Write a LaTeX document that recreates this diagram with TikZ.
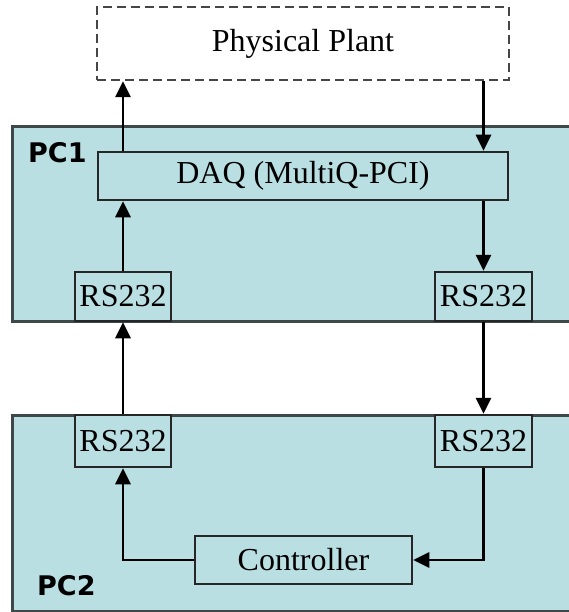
\documentclass[tikz,border=0pt]{standalone}
\usepackage{fontspec}
\setmainfont{Liberation Serif}
\newfontfamily\pclabelfont{DejaVu Sans}
\usetikzlibrary{arrows.meta}
\definecolor{pcfill}{RGB}{185,223,227}
\definecolor{pcedge}{RGB}{62,72,72}
\definecolor{dashgray}{RGB}{70,70,70}
\tikzset{
  pcbox/.style={draw=pcedge, line width=3pt, fill=pcfill, inner sep=0pt},
  blockbox/.style={draw=black!85, line width=2.5pt, fill=pcfill, inner sep=0pt,
    font=\fontsize{32}{38}\selectfont},
  plantbox/.style={draw=dashgray, line width=2.5pt, dash pattern=on 9pt off 5pt,
    fill=white, inner sep=0pt, font=\fontsize{32}{38}\selectfont},
  pclabel/.style={font=\pclabelfont\bfseries\fontsize{27}{32}\selectfont, inner sep=0pt, anchor=base west},
  arr/.style={line width=2.7pt, black, -{Triangle[length=16pt,width=15pt]}},
  conn/.style={line width=2.7pt, black}
}
\begin{document}
\begin{tikzpicture}[x=1pt,y=-1pt]
\useasboundingbox (0,0) rectangle (569,612);
\clip (0,0) rectangle (569,612);
\fill[white] (0,0) rectangle (569,612);
% outer PC boxes
\node[pcbox, minimum width=568pt, minimum height=194pt] (pc1) at (296,224) {};
\node[pcbox, minimum width=568pt, minimum height=196pt] (pc2) at (296,513) {};
\node[pclabel] (pc1lab) at (28,163) {PC1};
\node[pclabel] (pc2lab) at (37,595) {PC2};
% plant
\node[plantbox, minimum width=412pt, minimum height=73pt] (plant) at (303,43.5) {Physical Plant};
% blocks
\node[blockbox, minimum width=410pt, minimum height=48pt] (daq) at (303,176) {DAQ (MultiQ-PCI)};
\node[blockbox, minimum width=96pt, minimum height=49pt] (lu) at (123,296.5) {RS232};
\node[blockbox, minimum width=97pt, minimum height=49pt] (ru) at (483.5,296.5) {RS232};
\node[blockbox, minimum width=96pt, minimum height=52pt] (ll) at (123,441) {RS232};
\node[blockbox, minimum width=97pt, minimum height=52pt] (rl) at (483.5,441) {RS232};
\node[blockbox, minimum width=217pt, minimum height=48pt] (ctrl) at (303.5,560) {Controller};
% connectors
\draw[arr] (daq.north -| lu.center) -- (plant.south -| lu.center);
\draw[arr] (plant.south -| ru.center) -- (daq.north -| ru.center);
\draw[arr] (lu.north) -- (lu.north |- daq.south);
\draw[arr] (ru.north |- daq.south) -- (ru.north);
\draw[arr] (ll.north) -- (lu.south);
\draw[arr] (ru.south) -- (rl.north);
\draw[arr] (rl.south) |- (ctrl.east);
\draw[arr] (ctrl.west) -| (ll.south);
\end{tikzpicture}
\end{document}
